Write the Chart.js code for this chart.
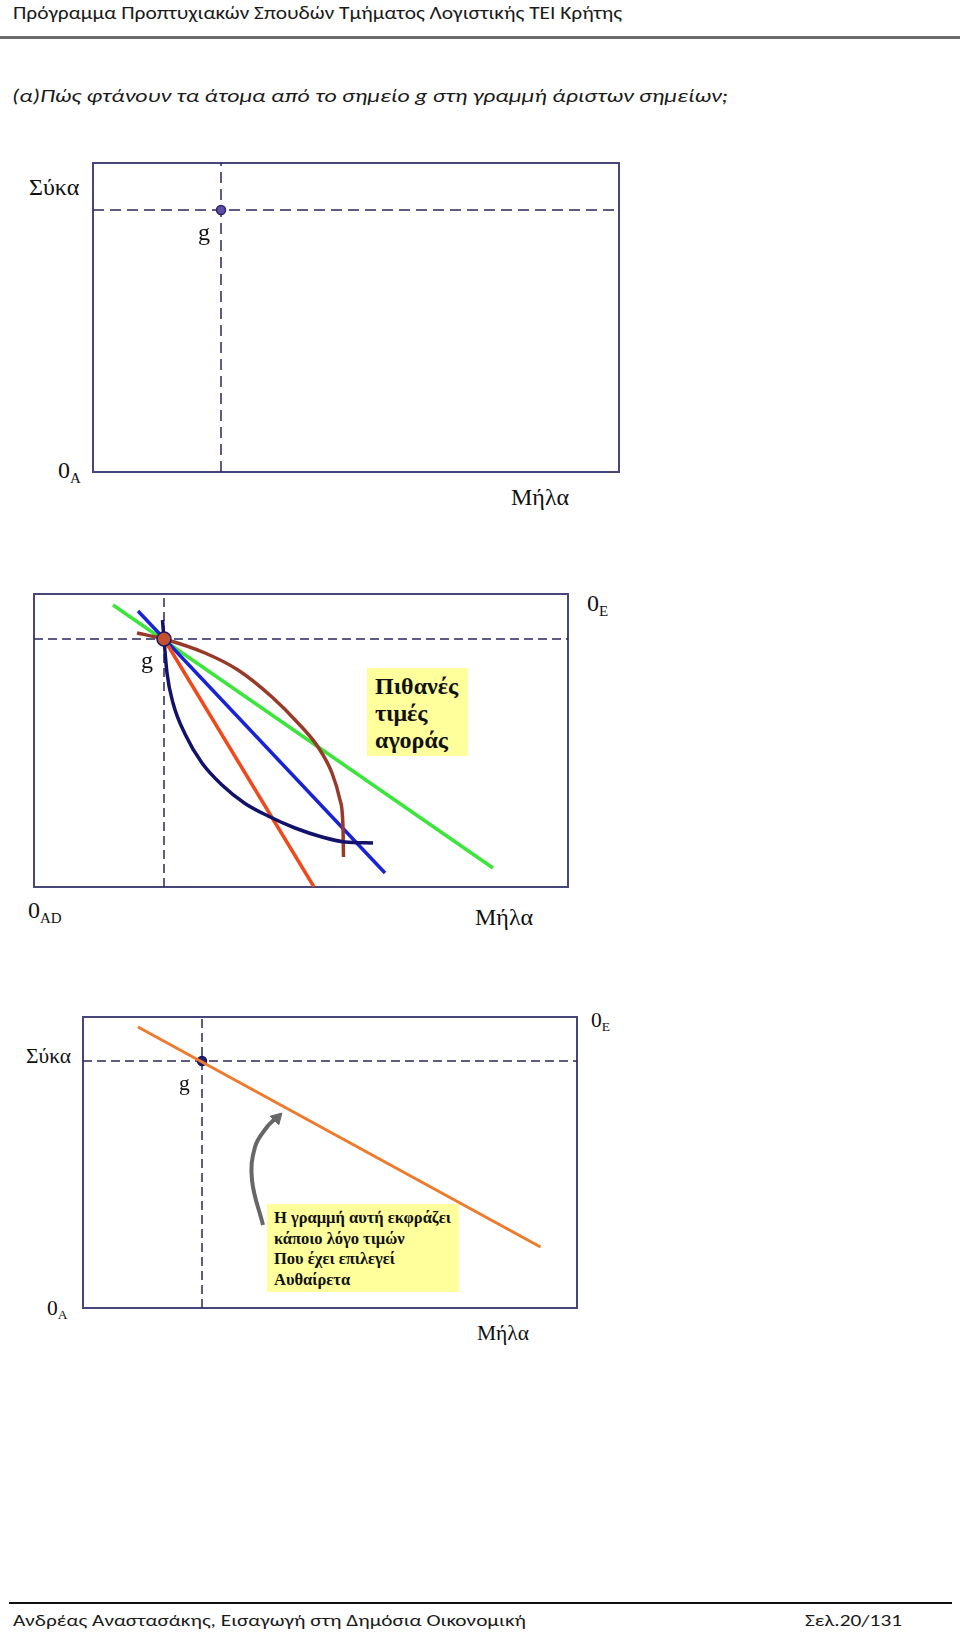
<!DOCTYPE html>
<html>
<head>
<meta charset="utf-8">
<script src="https://cdn.jsdelivr.net/npm/chart.js@4.4.1/dist/chart.umd.min.js"></script>
<style>
  body { margin: 0; background: #fff; width: 960px; height: 1634px; position: relative; overflow: hidden; }
  .t { position: absolute; white-space: nowrap; line-height: 1; }
  .cal { font-family: Carlito, "Open Sans", "Noto Sans", sans-serif; color: #1a1a1a; }
  .tm { font-family: "Liberation Serif", "Times New Roman", serif; font-size: 24px; color: #111; }
  .tm.sm { font-size: 21.5px; }
  .sb { font-size: 15px; position: relative; top: 5px; }
  .sm .sb { font-size: 13.5px; top: 4px; }
  .note { position: absolute; font-family: "Liberation Serif", "Times New Roman", serif; font-weight: bold; color: #111; white-space: nowrap; }
  .ybox { position: absolute; background: #ffff9c; }
  .rule { position: absolute; }
  .chart { position: absolute; }
</style>
</head>
<body>

<div class="t cal" style="left:13px;top:3px;font-size:19px" data-w="609">Πρόγραμμα Προπτυχιακών Σπουδών Τμήματος Λογιστικής ΤΕΙ Κρήτης</div>
<div class="rule" style="left:0;top:36px;width:960px;height:3px;background:#6b6b6b"></div>
<div class="t cal" style="left:12px;top:87px;font-size:18.5px;font-style:italic" data-w="716">(α)Πώς φτάνουν τα άτομα από το σημείο g στη γραμμή άριστων σημείων;</div>

<!-- diagram 1 -->
<div class="chart" id="c1"><canvas id="chart1"></canvas></div>
<div class="t tm" style="left:29px;top:175px">Σύκα</div>
<div class="t tm" style="left:198px;top:220px">g</div>
<div class="t tm" style="left:58px;top:458px">0<span class="sb">A</span></div>
<div class="t tm" style="left:511px;top:485px">Μήλα</div>

<!-- diagram 2 -->
<div class="chart" id="c2"><canvas id="chart2"></canvas></div>
<div class="ybox" style="left:367px;top:668px;width:101px;height:88px"></div>
<div class="note" style="left:375px;top:673px;font-size:24px;line-height:27px">Πιθανές<br>τιμές<br>αγοράς</div>
<div class="t tm" style="left:587px;top:591px">0<span class="sb">E</span></div>
<div class="t tm" style="left:141px;top:648px">g</div>
<div class="t tm" style="left:28px;top:898px">0<span class="sb">AD</span></div>
<div class="t tm" style="left:475px;top:905px">Μήλα</div>

<!-- diagram 3 -->
<div class="ybox" style="left:267px;top:1204px;width:192px;height:88px"></div>
<div class="note" style="left:274px;top:1208px;font-size:16.5px;line-height:20.5px">Η γραμμή αυτή εκφράζει<br>κάποιο λόγο τιμών<br>Που έχει επιλεγεί<br>Αυθαίρετα</div>
<div class="chart" id="c3"><canvas id="chart3"></canvas></div>
<div class="t tm sm" style="left:26px;top:1046px">Σύκα</div>
<div class="t tm sm" style="left:179px;top:1073px">g</div>
<div class="t tm sm" style="left:47px;top:1298px">0<span class="sb">A</span></div>
<div class="t tm sm" style="left:591px;top:1010px">0<span class="sb">E</span></div>
<div class="t tm sm" style="left:477px;top:1323px">Μήλα</div>

<div class="rule" style="left:9px;top:1602px;width:943px;height:2px;background:#111"></div>
<div class="t cal" style="left:13px;top:1612px;font-size:17px" data-w="513">Ανδρέας Αναστασάκης, Εισαγωγή στη Δημόσια Οικονομική</div>
<div class="t cal" style="left:805px;top:1612px;font-size:17px" data-w="97">Σελ.20/131</div>

<script>
// units: 1 unit = 10 px of the box, origin at the lower-left corner of each box

// diagram 1
const box1 = { left: 93, top: 163, w: 52.6, h: 30.9 };
const g1 = [12.8, 26.2];

// diagram 2
const box2 = { left: 34, top: 594, w: 53.4, h: 29.3 };
const g2 = [13.0, 24.8];
const greenX = [7.9, 45.9];
const greenY = [28.2, 1.9];
const blueX = [10.4, 35.1];
const blueY = [27.6, 1.4];
const redX = [13.0, 28.0];
const redY = [24.8, 0];
const brownX = [10.3, 13.0, 17.1, 20.4, 23.8, 26.4, 28.4, 29.8, 30.6, 30.9, 30.95];
const brownY = [25.4, 24.8, 23.4, 21.7, 19.0, 16.4, 14.0, 11.4, 8.7, 6.0, 3.0];
const navyX = [12.85, 13.0, 13.3, 13.9, 15.1, 16.8, 18.8, 21.1, 23.4, 26.1, 28.8, 31.1, 33.9];
const navyY = [26.7, 24.8, 21.4, 18.4, 15.3, 12.4, 10.2, 8.35, 7.1, 5.9, 5.0, 4.5, 4.4];

// diagram 3
const box3 = { left: 83, top: 1017, w: 49.4, h: 29.1 };
const g3 = [11.9, 24.7];
const orangeX = [5.5, 45.75];
const orangeY = [28.1, 6.1];
const arrowX = [18.0, 16.9, 17.2, 18.4, 19.2];
const arrowY = [8.3, 12.8, 16.1, 18.1, 18.9];
const arrowHead = [19.4, 19.0];

const PAD = 4;
const DASH = '#27275e';
const FRAME = '#46467a';

function pts(xs, ys) {
  return xs.map((x, i) => ({ x: x, y: ys[i] }));
}

function line(xs, ys, color, width, extra) {
  return Object.assign({
    data: pts(xs, ys),
    showLine: true,
    borderColor: color,
    borderWidth: width,
    pointRadius: 0,
    fill: false
  }, extra || {});
}

function dot(p, fillColor, edge, r) {
  return {
    data: [{ x: p[0], y: p[1] }],
    showLine: false,
    pointRadius: r,
    pointBackgroundColor: fillColor,
    pointBorderColor: edge,
    pointBorderWidth: 1.5
  };
}

function crossHairs(box, g, dash) {
  return [
    line([g[0], g[0]], [0, box.h], DASH, 1.5, { borderDash: dash }),
    line([0, box.w], [g[1], g[1]], DASH, 1.5, { borderDash: dash })
  ];
}

const frame = {
  id: 'frame',
  beforeDatasetsDraw(chart) {
    const a = chart.chartArea;
    const ctx = chart.ctx;
    ctx.save();
    ctx.strokeStyle = FRAME;
    ctx.lineWidth = 2;
    ctx.strokeRect(a.left, a.top, a.right - a.left, a.bottom - a.top);
    ctx.restore();
  }
};

function makeChart(divId, canvasId, box, datasets) {
  const div = document.getElementById(divId);
  div.style.left = (box.left - PAD) + 'px';
  div.style.top = (box.top - PAD) + 'px';
  div.style.width = (box.w * 10 + PAD * 2) + 'px';
  div.style.height = (box.h * 10 + PAD * 2) + 'px';
  return new Chart(canvasId, {
    type: 'scatter',
    data: { datasets: datasets },
    options: {
      responsive: true,
      maintainAspectRatio: false,
      animation: false,
      layout: { padding: PAD, autoPadding: false },
      scales: {
        x: { type: 'linear', min: 0, max: box.w, display: false },
        y: { type: 'linear', min: 0, max: box.h, display: false }
      },
      plugins: { legend: { display: false }, tooltip: { enabled: false } },
      events: []
    },
    plugins: [frame]
  });
}

const smooth = { cubicInterpolationMode: 'monotone' };

makeChart('c1', 'chart1', box1, [
  dot(g1, '#5e4ea3', '#2c2270', 4.5)
].concat(crossHairs(box1, g1, [11, 6])));

makeChart('c2', 'chart2', box2, [
  dot(g2, '#c4502f', '#1b1b66', 7),
  line(navyX, navyY, '#12126b', 3.5, smooth),
  line(brownX, brownY, '#973a2a', 3.5, smooth),
  line(redX, redY, '#ee4a1c', 3.5),
  line(blueX, blueY, '#1a22d8', 3.5),
  line(greenX, greenY, '#3be53b', 3.5)
].concat(crossHairs(box2, g2, [9, 5])));

makeChart('c3', 'chart3', box3, [
  line(orangeX, orangeY, '#ee7a2c', 3),
  dot(g3, '#23236e', '#15155a', 4.5),
  {
    data: [{ x: arrowHead[0], y: arrowHead[1] }],
    showLine: false,
    pointStyle: 'triangle',
    pointRotation: 45,
    pointRadius: 7,
    pointBackgroundColor: '#676767',
    pointBorderColor: '#676767',
    pointBorderWidth: 1
  },
  line(arrowX, arrowY, '#676767', 4, { tension: 0.4 })
].concat(crossHairs(box3, g3, [9, 5])));

document.querySelectorAll('[data-w]').forEach(el => {
  const w = el.getBoundingClientRect().width;
  el.style.transformOrigin = '0 0';
  el.style.transform = 'scaleX(' + (Number(el.dataset.w) / w) + ')';
});
</script>
</body>
</html>
